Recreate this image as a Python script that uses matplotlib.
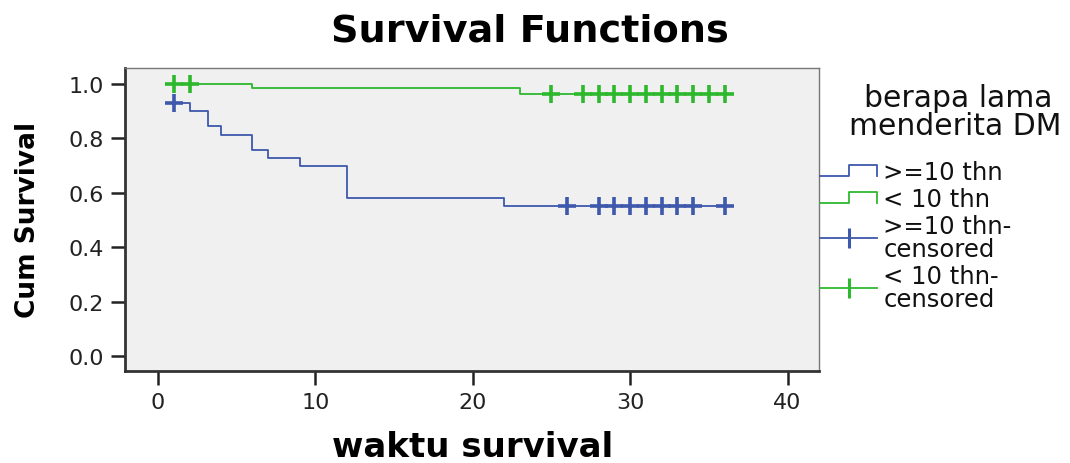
import numpy as np
import matplotlib
matplotlib.use("Agg")
import matplotlib.pyplot as plt
from matplotlib.lines import Line2D
from matplotlib.legend_handler import HandlerBase

# ---- data ----
blue_times = [0.5, 2, 3.2, 4, 6, 7, 9, 12, 22, 36.3]
blue_surv = [0.932, 0.902, 0.844, 0.814, 0.758, 0.728, 0.697, 0.581, 0.553, 0.553]
blue_cens = [1, 26, 28, 29, 30, 31, 32, 33, 34, 36]

green_times = [0.5, 6, 23, 36.3]
green_surv = [1.0, 0.985, 0.965, 0.965]
green_cens = [1, 2, 25, 27, 28, 29, 30, 31, 32, 33, 34, 35, 36]

labels = [">=10 thn", "< 10 thn", ">=10 thn-\ncensored", "< 10 thn-\ncensored"]
xticks = [0, 10, 20, 30, 40]
yticks = [0.0, 0.2, 0.4, 0.6, 0.8, 1.0]

BLUE = "#3E58AC"
GREEN = "#2EB82E"
FONT = "DejaVu Sans"

plt.rcParams["font.family"] = [FONT]


def step_at(times, surv, t):
    idx = np.searchsorted(np.asarray(times), t, side="right") - 1
    idx = np.clip(idx, 0, len(surv) - 1)
    return np.asarray(surv)[idx]


W, H = 1070, 464
fig = plt.figure(figsize=(W / 100, H / 100), dpi=100)
ax = fig.add_axes([125 / W, 1 - 372 / H, (819 - 125) / W, (372 - 69) / H])
ax.set_facecolor("#F0F0F0")

ax.step(blue_times, blue_surv, where="post", color=BLUE, lw=1.3)
ax.step(green_times, green_surv, where="post", color=GREEN, lw=1.3)
ax.plot(blue_cens, step_at(blue_times, blue_surv, blue_cens), ls="none",
        marker="+", ms=13, mew=2.6, color=BLUE)
ax.plot(green_cens, step_at(green_times, green_surv, green_cens), ls="none",
        marker="+", ms=13, mew=2.6, color=GREEN)

ax.set_xlim(-2.1, 42.0)
ax.set_ylim(-0.055, 1.059)
ax.set_xticks(xticks)
ax.set_xticklabels([str(v) for v in xticks])
ax.set_yticks(yticks)
ax.set_yticklabels([f"{v:.1f}" for v in yticks])
ax.tick_params(axis="both", direction="out", length=10, width=1.8,
               color="#222222", labelsize=16, labelcolor="#222222", pad=5)
for side in ["left", "bottom"]:
    ax.spines[side].set_linewidth(2.0)
    ax.spines[side].set_color("#333333")
for side in ["top", "right"]:
    ax.spines[side].set_linewidth(1.0)
    ax.spines[side].set_color("#777777")

fig.text(530 / W, 1 - 42 / H, "Survival Functions", ha="center", va="baseline",
         fontsize=27.5, fontweight="bold", color="black")
fig.text(473 / W, 1 - 457 / H, "waktu survival", ha="center", va="baseline",
         fontsize=24.5, fontweight="bold", color="black")
fig.text(28 / W, 1 - 220 / H, "Cum Survival", ha="center", va="center",
         rotation=90, fontsize=19, fontweight="bold", color="black")

# legend title
fig.text(958 / W, 1 - 107 / H, "berapa lama", ha="center", va="baseline",
         fontsize=21.5, color="#111111")
fig.text(955 / W, 1 - 135 / H, "menderita DM", ha="center", va="baseline",
         fontsize=21.5, color="#111111")


class StepHandler(HandlerBase):
    def create_artists(self, legend, orig_handle, xdescent, ydescent,
                       width, height, fontsize, trans):
        x0, y0 = -xdescent, -ydescent
        lo, hi = y0 + 0.05 * height, y0 + 0.95 * height
        xs = [x0, x0 + 0.5 * width, x0 + 0.5 * width, x0 + width, x0 + width]
        ys = [lo, lo, hi, hi, lo]
        ln = Line2D(xs, ys, color=orig_handle.get_color(), lw=1.3)
        ln.set_transform(trans)
        return [ln]


class CensHandler(HandlerBase):
    def create_artists(self, legend, orig_handle, xdescent, ydescent,
                       width, height, fontsize, trans):
        x0, y0 = -xdescent, -ydescent
        ym = y0 + 0.5 * height
        ln = Line2D([x0, x0 + width], [ym, ym], color=orig_handle.get_color(), lw=1.3)
        mk = Line2D([x0 + 0.5 * width], [ym], ls="none", marker="|", ms=15,
                    mew=2.2, color=orig_handle.get_color())
        ln.set_transform(trans)
        mk.set_transform(trans)
        return [ln, mk]


class StepH(Line2D):
    pass


class CensH(Line2D):
    pass


handles = [StepH([], [], color=BLUE), StepH([], [], color=GREEN),
           CensH([], [], color=BLUE), CensH([], [], color=GREEN)]
leg = fig.legend(handles, labels, loc="upper left",
                 bbox_to_anchor=(820 / W, 1 - 161 / H), frameon=False,
                 fontsize=17.5, handlelength=2.35, handleheight=0.42,
                 handletextpad=0.25, labelspacing=0.12, borderpad=0,
                 borderaxespad=0,
                 handler_map={StepH: StepHandler(), CensH: CensHandler()})
for t in leg.get_texts():
    t.set_linespacing(0.95)
    t.set_color("#111111")

fig.savefig("out.png", dpi=100, facecolor="white")
